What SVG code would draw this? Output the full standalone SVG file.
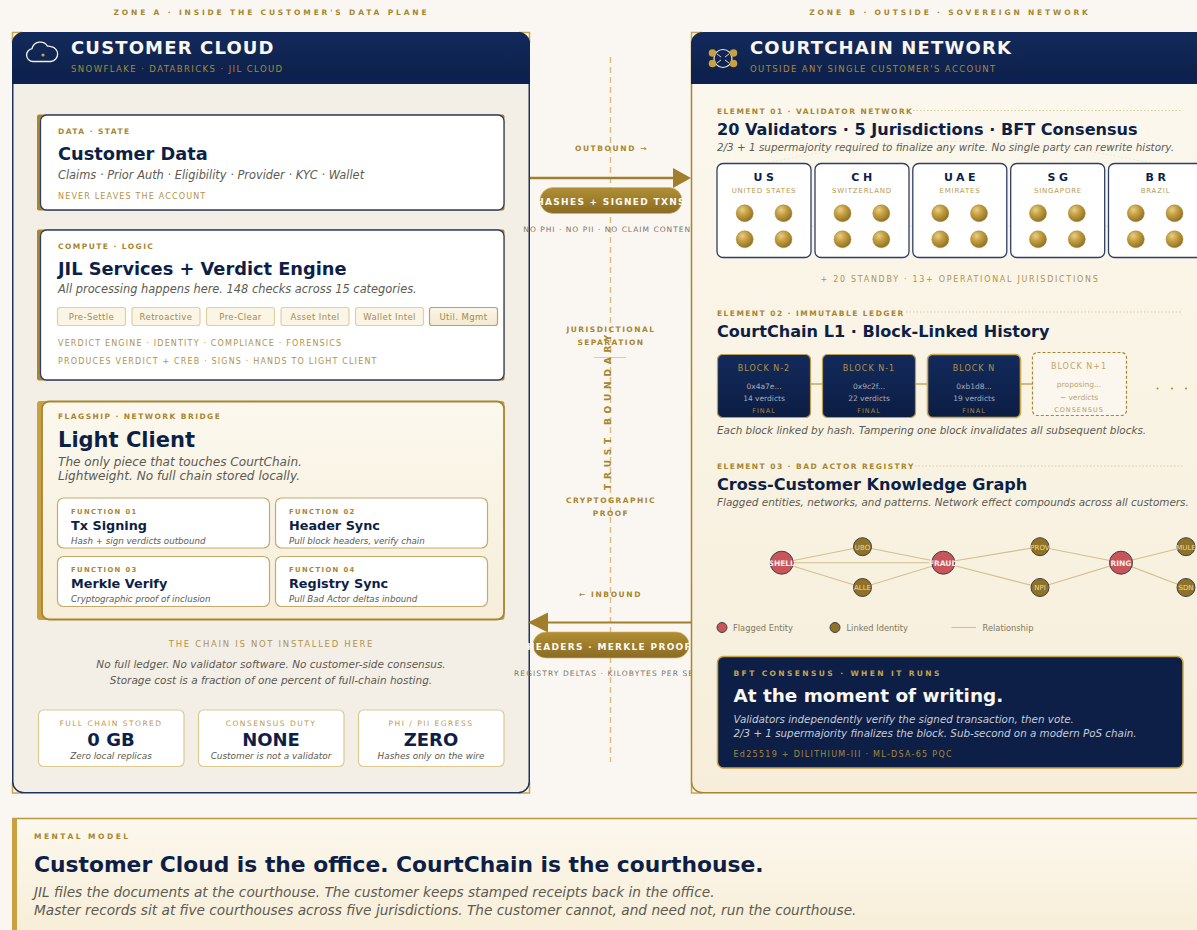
<svg xmlns="http://www.w3.org/2000/svg" width="1197" height="930" viewBox="0 0 1197 930">
<style>
text{font-family:"DejaVu Sans",sans-serif}
.zone{font-size:7.5px;font-weight:700;letter-spacing:2.85px;fill:#a8852f;text-anchor:middle}
.ph{font-size:18px;font-weight:700;letter-spacing:1.15px;fill:#faf7f0}
.phs{font-size:8.5px;letter-spacing:1.4px;fill:#a8893a}
.eye{font-size:7.5px;font-weight:700;letter-spacing:1.45px;fill:#a8852f}
.fe{font-size:6.8px;font-weight:700;letter-spacing:1.4px;fill:#a8852f}
.t{font-weight:700;fill:#0d1f47}
.i{font-style:italic;fill:#5c5a52}
.note{font-size:8px;letter-spacing:1.17px;fill:#b0934a}
.chip{fill:#fbf5e6;stroke:#e3cf9c;stroke-width:1.2}
.chipt{font-size:8.5px;fill:#a08a52;text-anchor:middle;letter-spacing:.4px}
.fn{fill:#fff;stroke:#c4ab6c;stroke-width:1.2}
.st{fill:#fff;stroke:#e0c98f;stroke-width:1.2}
.stl{font-size:7.5px;letter-spacing:1.5px;fill:#b89a52;text-anchor:middle}
.stv{font-size:18px;font-weight:700;fill:#0d1f47;text-anchor:middle}
.sts{font-size:8.9px;font-style:italic;fill:#5c5a52;text-anchor:middle}
.mid{font-size:7.5px;font-weight:700;letter-spacing:1.6px;fill:#a8852f;text-anchor:middle}
.midw{letter-spacing:1.45px}
.midn{font-size:7.5px;letter-spacing:1px;fill:#7a7668;text-anchor:middle}
.pillt{font-size:9px;font-weight:700;letter-spacing:1.3px;fill:#fdfaf2;text-anchor:middle}
.jc{fill:#fff;stroke:#2e3f63;stroke-width:1.3}
.jt{font-size:11px;font-weight:700;letter-spacing:3.5px;fill:#0d1f47;text-anchor:middle}
.js{font-size:7px;letter-spacing:.8px;fill:#b89a52;text-anchor:middle}
.dot{fill:url(#gold);stroke:#a8852f;stroke-width:.5}
.dotl{stroke:#ddcb9b;stroke-width:1;stroke-dasharray:1.5 2;fill:none}
.blk{fill:url(#navy);stroke:#b79c52;stroke-width:1.2}
.bn{font-size:8px;letter-spacing:1px;fill:#b0934a;text-anchor:middle}
.bh{font-size:7.5px;fill:#a9adb8;text-anchor:middle}
.bf{font-size:6.5px;letter-spacing:1px;fill:#a8893a;text-anchor:middle}
.bp{font-size:7.5px;fill:#bfa566;text-anchor:middle}
.edge{stroke:#d4bf8a;stroke-width:1.1;fill:none}
.red{fill:#c9555b;stroke:#3f3f4a;stroke-width:1}
.brn{fill:#8f7226;stroke:#3f3f4a;stroke-width:1}
.rt{font-size:7.5px;font-weight:700;fill:#fbeeee;text-anchor:middle}
.bt{font-size:7px;fill:#e6d7a8;text-anchor:middle}
.lg{font-size:8.3px;fill:#7d775f}
</style>
<defs>
<linearGradient id="hdr" x1="0" y1="0" x2="0" y2="1"><stop offset="0" stop-color="#122a5c"/><stop offset="1" stop-color="#0d1f47"/></linearGradient>
<linearGradient id="navy" x1="0" y1="0" x2="0" y2="1"><stop offset="0" stop-color="#122a5c"/><stop offset="1" stop-color="#0c1d43"/></linearGradient>
<linearGradient id="pill" x1="0" y1="0" x2="0" y2="1"><stop offset="0" stop-color="#b08f35"/><stop offset="1" stop-color="#8a6b22"/></linearGradient>
<linearGradient id="cream" x1="0" y1="0" x2="0" y2="1"><stop offset="0" stop-color="#fcf8ee"/><stop offset="1" stop-color="#f6eeda"/></linearGradient>
<linearGradient id="util" x1="0" y1="0" x2="0" y2="1"><stop offset="0" stop-color="#fbf6e8"/><stop offset="1" stop-color="#f3e9d0"/></linearGradient>
<linearGradient id="band" x1="0" y1="0" x2="0" y2="1"><stop offset="0" stop-color="#fcf8ee"/><stop offset="1" stop-color="#f7edd5"/></linearGradient>
<radialGradient id="gold" cx=".36" cy=".3" r=".72"><stop offset="0" stop-color="#e6cf8c"/><stop offset=".4" stop-color="#c8a343"/><stop offset="1" stop-color="#8f6f25"/></radialGradient>
</defs>
<rect width="1197" height="930" fill="#faf7f2"/>
<text class="zone" x="271.5" y="15">ZONE A · INSIDE THE CUSTOMER'S DATA PLANE</text>
<text class="zone" x="950" y="15">ZONE B · OUTSIDE · SOVEREIGN NETWORK</text>

<g id="customer-cloud">
<path d="M12.5 43V32.5H23M519 32.5H529.5V43M12.5 782V793H23M519 793H529.5V782" fill="none" stroke="#c9a548" stroke-width="1.5"/>
<rect x="12.75" y="32.75" width="516.5" height="760" rx="11" fill="#f3efe7" stroke="#1f335f" stroke-width="1.5"/>
<path d="M12 84V44a12 12 0 0 1 12-12H518a12 12 0 0 1 12 12V84Z" fill="url(#hdr)"/>
<rect x="12" y="73" width="518" height="11" fill="#0d2150"/>
<path d="M33 61.5a6.5 6.5 0 0 1-1-12.9a8.5 8.5 0 0 1 15.5-2.5a7 7 0 0 1 3.5 .5a7.5 7.5 0 0 1 0 14.9Z" fill="none" stroke="#f4f1e8" stroke-width="1.3"/>
<circle cx="43" cy="55" r="1.6" fill="#c9a548"/>
<text class="ph" x="71" y="54">CUSTOMER CLOUD</text>
<text class="phs" x="71" y="72">SNOWFLAKE · DATABRICKS · JIL CLOUD</text>
</g>

<g id="card-data">
<rect x="37" y="114.5" width="467.5" height="96" rx="2" fill="#a8852f"/>
<rect x="40.5" y="115" width="463.5" height="95" rx="6" fill="#fff" stroke="#2e3f63" stroke-width="1.3"/>
<text class="eye" x="58" y="134">DATA · STATE</text>
<text class="t" x="58" y="160" font-size="17.8">Customer Data</text>
<text class="i" x="58" y="179" font-size="11.4">Claims · Prior Auth · Eligibility · Provider · KYC · Wallet</text>
<text class="note" x="58" y="199">NEVER LEAVES THE ACCOUNT</text>
</g>

<g id="card-services">
<rect x="37" y="229.5" width="467.5" height="151" rx="2" fill="#a8852f"/>
<rect x="40.5" y="230" width="463.5" height="150" rx="6" fill="#fff" stroke="#2e3f63" stroke-width="1.3"/>
<text class="eye" x="58" y="249">COMPUTE · LOGIC</text>
<text class="t" x="58" y="275" font-size="17.8">JIL Services + Verdict Engine</text>
<text class="i" x="58" y="293" font-size="11.4">All processing happens here. 148 checks across 15 categories.</text>
<rect class="chip" x="57.5" y="307.5" width="68" height="18" rx="2.5"/><text class="chipt" x="91.5" y="319.5">Pre-Settle</text>
<rect class="chip" x="132" y="307.5" width="68" height="18" rx="2.5"/><text class="chipt" x="166" y="319.5">Retroactive</text>
<rect class="chip" x="206.5" y="307.5" width="68" height="18" rx="2.5"/><text class="chipt" x="240.5" y="319.5">Pre-Clear</text>
<rect class="chip" x="281" y="307.5" width="68" height="18" rx="2.5"/><text class="chipt" x="315" y="319.5">Asset Intel</text>
<rect class="chip" x="355.5" y="307.5" width="68" height="18" rx="2.5"/><text class="chipt" x="389.5" y="319.5">Wallet Intel</text>
<rect x="429.5" y="307.5" width="68" height="18" rx="2.5" fill="url(#util)" stroke="#b8a26a" stroke-width="1.2"/><text class="chipt" x="463.5" y="319.5">Util. Mgmt</text>
<text class="note" x="58" y="346">VERDICT ENGINE · IDENTITY · COMPLIANCE · FORENSICS</text>
<text class="note" x="58" y="364">PRODUCES VERDICT + CREB · SIGNS · HANDS TO LIGHT CLIENT</text>
</g>

<g id="card-light-client">
<rect x="37" y="401" width="467.5" height="219" rx="3" fill="#c9a042"/>
<rect x="42" y="401.5" width="462" height="218" rx="7" fill="url(#cream)" stroke="#a8852f" stroke-width="1.8"/>
<text class="eye" x="58" y="419">FLAGSHIP · NETWORK BRIDGE</text>
<text class="t" x="58" y="447" font-size="21">Light Client</text>
<text class="i" x="58" y="466" font-size="12.1">The only piece that touches CourtChain.</text>
<text class="i" x="58" y="480" font-size="12.1">Lightweight. No full chain stored locally.</text>
<rect class="fn" x="57.5" y="498" width="212" height="50" rx="6"/>
<text class="fe" x="71" y="514">FUNCTION 01</text><text class="t" x="71" y="530" font-size="12.8">Tx Signing</text><text class="i" x="71" y="544" font-size="8.7">Hash + sign verdicts outbound</text>
<rect class="fn" x="275.5" y="498" width="212" height="50" rx="6"/>
<text class="fe" x="289" y="514">FUNCTION 02</text><text class="t" x="289" y="530" font-size="12.8">Header Sync</text><text class="i" x="289" y="544" font-size="8.7">Pull block headers, verify chain</text>
<rect class="fn" x="57.5" y="556.5" width="212" height="50" rx="6"/>
<text class="fe" x="71" y="572">FUNCTION 03</text><text class="t" x="71" y="588" font-size="12.8">Merkle Verify</text><text class="i" x="71" y="602" font-size="8.7">Cryptographic proof of inclusion</text>
<rect class="fn" x="275.5" y="556.5" width="212" height="50" rx="6"/>
<text class="fe" x="289" y="572">FUNCTION 04</text><text class="t" x="289" y="588" font-size="12.8">Registry Sync</text><text class="i" x="289" y="602" font-size="8.7">Pull Bad Actor deltas inbound</text>
</g>

<g id="chain-note">
<text class="note" x="271.5" y="647" text-anchor="middle" style="font-size:8.5px;letter-spacing:1.7px">THE CHAIN IS NOT INSTALLED HERE</text>
<text class="i" x="271" y="668" font-size="10.5" text-anchor="middle">No full ledger. No validator software. No customer-side consensus.</text>
<text class="i" x="271" y="684" font-size="10.5" text-anchor="middle">Storage cost is a fraction of one percent of full-chain hosting.</text>
</g>

<g id="stat-storage"><rect class="st" x="38.5" y="710" width="145.5" height="56.5" rx="5"/><text class="stl" x="111" y="726">FULL CHAIN STORED</text><text class="stv" x="111" y="746">0 GB</text><text class="sts" x="111" y="759">Zero local replicas</text></g>
<g id="stat-consensus"><rect class="st" x="198.5" y="710" width="145.5" height="56.5" rx="5"/><text class="stl" x="271" y="726">CONSENSUS DUTY</text><text class="stv" x="271" y="746">NONE</text><text class="sts" x="271" y="759">Customer is not a validator</text></g>
<g id="stat-egress"><rect class="st" x="358.5" y="710" width="145.5" height="56.5" rx="5"/><text class="stl" x="431" y="726">PHI / PII EGRESS</text><text class="stv" x="431" y="746">ZERO</text><text class="sts" x="431" y="759">Hashes only on the wire</text></g>

<g id="trust-boundary">
<line x1="610.5" y1="57" x2="610.5" y2="762" stroke="#dcc07c" stroke-width="1.5" stroke-dasharray="6 4"/>
<line x1="594" y1="357.5" x2="626" y2="357.5" stroke="#dcc07c" stroke-width=".8"/>
<text transform="translate(610.5 410) rotate(-90)" font-size="9" font-weight="700" letter-spacing="4.8" fill="#a8852f" text-anchor="middle">TRUST BOUNDARY</text>
<text class="mid midw" x="611" y="332">JURISDICTIONAL</text>
<text class="mid midw" x="611" y="345">SEPARATION</text>
<text class="mid midw" x="611" y="503">CRYPTOGRAPHIC</text>
<text class="mid midw" x="611" y="516">PROOF</text>
</g>

<g id="connectors">
<text class="mid" x="611.5" y="151">OUTBOUND →</text>
<line x1="530" y1="178" x2="675" y2="178" stroke="#a07e2c" stroke-width="2.5"/>
<path d="M673 168L691 178L673 188Z" fill="#a07e2c"/>
<text class="mid" x="610.5" y="597">← INBOUND</text>
<line x1="691" y1="622.5" x2="546" y2="622.5" stroke="#a07e2c" stroke-width="2"/>
<path d="M548 612.5L528 622.5L548 632.5Z" fill="#a07e2c"/>
</g>
<g id="pill-outbound">
<rect x="540" y="187.5" width="142" height="26" rx="13" fill="url(#pill)" stroke="#d3b566" stroke-width=".6"/>
<text class="pillt" x="611" y="205">HASHES + SIGNED TXNS</text>
<text class="midn" x="610" y="232">NO PHI · NO PII · NO CLAIM CONTENT</text>
</g>
<g id="pill-inbound">
<rect x="533" y="632" width="156" height="26" rx="13" fill="url(#pill)" stroke="#d3b566" stroke-width=".6"/>
<text class="pillt" x="609.5" y="649.5">HEADERS · MERKLE PROOF</text>
<text class="midn" x="514" y="676" style="text-anchor:start;letter-spacing:1.1px">REGISTRY DELTAS · KILOBYTES PER SECOND</text>
</g>

<g id="courtchain-network">
<path d="M691.5 43V32.5H702M691.5 782V793H702" fill="none" stroke="#c9a548" stroke-width="1.5"/>
<rect x="691.5" y="32.75" width="530" height="760" rx="11" fill="url(#cream)" stroke="#a8852f" stroke-width="1.5"/>
<path d="M691 84V44a12 12 0 0 1 12-12H1197V84Z" fill="url(#hdr)"/>
<rect x="691" y="73" width="506" height="11" fill="#0d2150"/>
<circle cx="723" cy="58.5" r="9" fill="none" stroke="#eceae2" stroke-width="1.2"/>
<path d="M717 54L721 57M729 54L725 57M717 63L721 60M729 63L725 60" stroke="#eceae2" stroke-width=".9"/>
<circle cx="712.5" cy="53" r="3.8" fill="#c9a042"/><circle cx="733.5" cy="53" r="3.8" fill="#c9a042"/>
<circle cx="712.5" cy="63.5" r="3.8" fill="#c9a042"/><circle cx="733.5" cy="63.5" r="3.8" fill="#c9a042"/>
<text class="ph" x="750" y="54">COURTCHAIN NETWORK</text>
<text class="phs" x="750" y="72">OUTSIDE ANY SINGLE CUSTOMER'S ACCOUNT</text>
</g>

<g id="element-01">
<text class="eye" x="717" y="113.5">ELEMENT 01 · VALIDATOR NETWORK</text>
<line class="dotl" x1="913" y1="110.5" x2="1183" y2="110.5"/>
<text class="t" x="717" y="134.5" font-size="16.1">20 Validators · 5 Jurisdictions · BFT Consensus</text>
<text class="i" x="717" y="151" font-size="10.4">2/3 + 1 supermajority required to finalize any write. No single party can rewrite history.</text>
<path d="M768 163Q957 120 1150 163" fill="none" stroke="#e9e1c9" stroke-width=".8" stroke-dasharray="2 2"/>
<line x1="811" y1="226" x2="1108" y2="226" stroke="#e4dcc4" stroke-width=".8"/>
</g>
<g id="jur-us"><rect class="jc" x="717" y="163.5" width="94" height="94" rx="6"/><text class="jt" x="765.5" y="181">US</text><text class="js" x="764" y="193">UNITED STATES</text><circle class="dot" cx="744.7" cy="213.3" r="8.5"/><circle class="dot" cx="783.5" cy="213.3" r="8.5"/><circle class="dot" cx="744.7" cy="239.3" r="8.5"/><circle class="dot" cx="783.5" cy="239.3" r="8.5"/></g>
<g id="jur-ch"><rect class="jc" x="815" y="163.5" width="94" height="94" rx="6"/><text class="jt" x="863.5" y="181">CH</text><text class="js" x="862" y="193">SWITZERLAND</text><circle class="dot" cx="842.5" cy="213.3" r="8.5"/><circle class="dot" cx="881.3" cy="213.3" r="8.5"/><circle class="dot" cx="842.5" cy="239.3" r="8.5"/><circle class="dot" cx="881.3" cy="239.3" r="8.5"/></g>
<g id="jur-uae"><rect class="jc" x="912.8" y="163.5" width="94" height="94" rx="6"/><text class="jt" x="961.5" y="181">UAE</text><text class="js" x="960" y="193">EMIRATES</text><circle class="dot" cx="940.3" cy="213.3" r="8.5"/><circle class="dot" cx="979" cy="213.3" r="8.5"/><circle class="dot" cx="940.3" cy="239.3" r="8.5"/><circle class="dot" cx="979" cy="239.3" r="8.5"/></g>
<g id="jur-sg"><rect class="jc" x="1010.7" y="163.5" width="94" height="94" rx="6"/><text class="jt" x="1059.5" y="181">SG</text><text class="js" x="1058" y="193">SINGAPORE</text><circle class="dot" cx="1038" cy="213.3" r="8.5"/><circle class="dot" cx="1076.8" cy="213.3" r="8.5"/><circle class="dot" cx="1038" cy="239.3" r="8.5"/><circle class="dot" cx="1076.8" cy="239.3" r="8.5"/></g>
<g id="jur-br"><rect class="jc" x="1108.5" y="163.5" width="94" height="94" rx="6"/><text class="jt" x="1157.5" y="181">BR</text><text class="js" x="1155.5" y="193">BRAZIL</text><circle class="dot" cx="1135.8" cy="213.3" r="8.5"/><circle class="dot" cx="1174.5" cy="213.3" r="8.5"/><circle class="dot" cx="1135.8" cy="239.3" r="8.5"/><circle class="dot" cx="1174.5" cy="239.3" r="8.5"/></g>
<text class="note" x="960" y="281.5" text-anchor="middle" style="letter-spacing:1.7px">+ 20 STANDBY · 13+ OPERATIONAL JURISDICTIONS</text>

<g id="element-02">
<text class="eye" x="717" y="315.5">ELEMENT 02 · IMMUTABLE LEDGER</text>
<line class="dotl" x1="906" y1="312" x2="1181" y2="312"/>
<text class="t" x="717" y="336.5" font-size="16.1">CourtChain L1 · Block-Linked History</text>
<line x1="810" y1="384" x2="1033" y2="384" stroke="#c4a75e" stroke-width="1.5"/>
<text class="i" x="717" y="434" font-size="10.4">Each block linked by hash. Tampering one block invalidates all subsequent blocks.</text>
<g fill="#a8893a"><circle cx="1157.5" cy="388.5" r="1"/><circle cx="1172" cy="388.5" r="1"/><circle cx="1186" cy="388.5" r="1"/></g>
</g>
<g id="block-n2"><rect class="blk" x="717.5" y="354.5" width="93" height="63" rx="5"/><text class="bn" x="764" y="370.5">BLOCK N-2</text><text class="bh" x="764" y="388.5">0x4a7e...</text><text class="bh" x="764" y="401">14 verdicts</text><text class="bf" x="764" y="413">FINAL</text></g>
<g id="block-n1"><rect class="blk" x="822.5" y="354.5" width="93" height="63" rx="5"/><text class="bn" x="869" y="370.5">BLOCK N-1</text><text class="bh" x="869" y="388.5">0x9c2f...</text><text class="bh" x="869" y="401">22 verdicts</text><text class="bf" x="869" y="413">FINAL</text></g>
<g id="block-n"><rect class="blk" x="927.5" y="354.5" width="93" height="63" rx="5" style="stroke:#cda94e;stroke-width:1.6"/><text class="bn" x="974" y="370.5">BLOCK N</text><text class="bh" x="974" y="388.5">0xb1d8...</text><text class="bh" x="974" y="401">19 verdicts</text><text class="bf" x="974" y="413">FINAL</text></g>
<g id="block-n-plus-1"><rect x="1032.5" y="352.5" width="94" height="63" rx="5" fill="#fbf7ef" stroke="#a8852f" stroke-width="1.2" stroke-dasharray="3 2"/><text class="bn" x="1079" y="369" style="fill:#bfa566">BLOCK N+1</text><text class="bp" x="1079" y="387">proposing...</text><text class="bp" x="1079" y="400">~ verdicts</text><text class="bf" x="1079" y="411.5" style="fill:#b89a52">CONSENSUS</text></g>

<g id="element-03">
<text class="eye" x="717" y="469">ELEMENT 03 · BAD ACTOR REGISTRY</text>
<line class="dotl" x1="915" y1="466" x2="1183" y2="466"/>
<text class="t" x="717" y="490" font-size="16.1">Cross-Customer Knowledge Graph</text>
<text class="i" x="717" y="506" font-size="10.42">Flagged entities, networks, and patterns. Network effect compounds across all customers.</text>
</g>

<g id="graph-edges">
<path class="edge" d="M782 562.7L862.5 546.7L943.3 562.7L1040 546.7L1121 562.7L1186 546.7M782 562.7L862.5 587.5L943.3 562.7L1040 587.5L1121 562.7L1186 587.5M782 562.7H943.3"/>
</g>
<g id="n-shell"><circle class="red" cx="781.7" cy="562.7" r="11.5"/><text class="rt" x="781.7" y="565.7">SHELL</text></g>
<g id="n-ubo"><circle class="brn" cx="862.5" cy="546.7" r="9"/><text class="bt" x="862.5" y="549.5">UBO</text></g>
<g id="n-alle"><circle class="brn" cx="862.5" cy="587.5" r="9"/><text class="bt" x="862.5" y="590.3">ALLE</text></g>
<g id="n-fraud"><circle class="red" cx="943.3" cy="562.7" r="11.5"/><text class="rt" x="943.3" y="565.7">FRAUD</text></g>
<g id="n-prov"><circle class="brn" cx="1040" cy="546.7" r="9"/><text class="bt" x="1040" y="549.5">PROV</text></g>
<g id="n-npi"><circle class="brn" cx="1040" cy="587.5" r="9"/><text class="bt" x="1040" y="590.3">NPI</text></g>
<g id="n-ring"><circle class="red" cx="1121" cy="562.7" r="11.5"/><text class="rt" x="1121" y="565.7">RING</text></g>
<g id="n-mule"><circle class="brn" cx="1186" cy="546.7" r="9"/><text class="bt" x="1186" y="549.5">MULE</text></g>
<g id="n-sdn"><circle class="brn" cx="1186" cy="587.5" r="9"/><text class="bt" x="1186" y="590.3">SDN</text></g>

<g id="legend">
<circle class="red" cx="722" cy="627.5" r="5"/><text class="lg" x="733" y="630.5">Flagged Entity</text>
<circle class="brn" cx="835" cy="627.5" r="5"/><text class="lg" x="846.5" y="630.5">Linked Identity</text>
<line class="edge" x1="951.5" y1="627.5" x2="976" y2="627.5"/><text class="lg" x="982.5" y="630.5">Relationship</text>
</g>

<g id="bft-card">
<rect x="717.5" y="656.5" width="465.5" height="111.5" rx="6" fill="#0d1f47" stroke="#c9a548" stroke-width="1.5"/>
<text x="733.5" y="675.5" font-size="7.5" font-weight="700" letter-spacing="2.4" fill="#c9a548">BFT CONSENSUS · WHEN IT RUNS</text>
<text x="733.5" y="702" font-size="18.4" font-weight="700" fill="#faf7f0">At the moment of writing.</text>
<text x="733.5" y="723" font-size="10.33" font-style="italic" fill="#c8ccd4">Validators independently verify the signed transaction, then vote.</text>
<text x="733.5" y="737" font-size="10.33" font-style="italic" fill="#c8ccd4">2/3 + 1 supermajority finalizes the block. Sub-second on a modern PoS chain.</text>
<text x="733.5" y="757" font-size="8" letter-spacing="1.28" fill="#a8893a">Ed25519 + DILITHIUM-III · ML-DSA-65 PQC</text>
</g>

<g id="mental-model">
<rect x="12" y="818" width="1200" height="130" fill="url(#band)"/>
<line x1="12" y1="818.5" x2="1197" y2="818.5" stroke="#b8963f" stroke-width="1.5"/>
<rect x="12" y="818" width="5" height="112" fill="#c9a042"/>
<text x="34" y="839" font-size="7.5" font-weight="700" letter-spacing="2.5" fill="#a8852f">MENTAL MODEL</text>
<text class="t" x="34" y="872" font-size="21.8">Customer Cloud is the office. CourtChain is the courthouse.</text>
<text class="i" x="34" y="897" font-size="13.7">JIL files the documents at the courthouse. The customer keeps stamped receipts back in the office.</text>
<text class="i" x="34" y="915" font-size="13.7">Master records sit at five courthouses across five jurisdictions. The customer cannot, and need not, run the courthouse.</text>
</g>
</svg>
